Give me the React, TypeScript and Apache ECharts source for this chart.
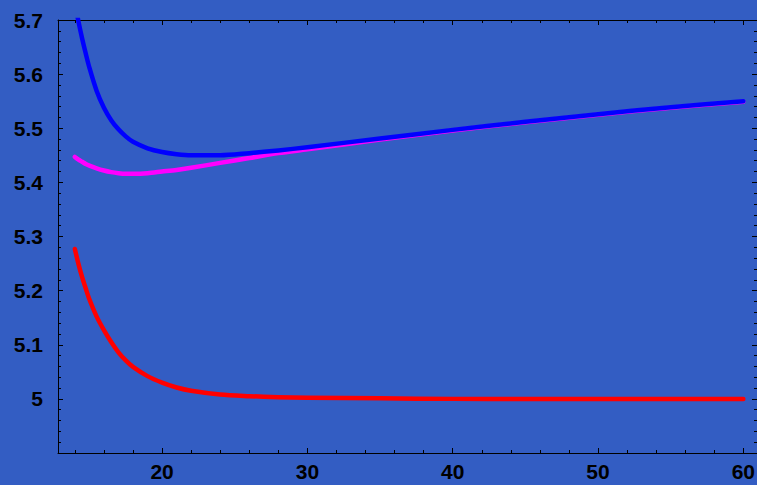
import React, { useEffect, useRef } from "react";
import * as echarts from "echarts";

const xValues = [14, 14.25, 14.5, 14.75, 15, 15.5, 16, 16.5, 17, 17.5, 18, 19, 20, 21, 22, 24, 26, 28, 30, 35, 40, 45, 50, 55, 60];
const blueValues = [5.731, 5.697, 5.666, 5.638, 5.612, 5.569, 5.538, 5.515, 5.498, 5.485, 5.475, 5.463, 5.456, 5.452, 5.450, 5.450, 5.454, 5.459, 5.465, 5.481, 5.497, 5.512, 5.526, 5.539, 5.550];
const magentaValues = [5.447, 5.442, 5.438, 5.434, 5.431, 5.426, 5.422, 5.419, 5.417, 5.416, 5.416, 5.417, 5.420, 5.423, 5.427, 5.436, 5.445, 5.454, 5.461, 5.479, 5.496, 5.511, 5.525, 5.538, 5.549];
const redValues = [5.277, 5.249, 5.225, 5.204, 5.184, 5.152, 5.127, 5.105, 5.086, 5.071, 5.059, 5.042, 5.030, 5.021, 5.015, 5.008, 5.005, 5.003, 5.002, 5.001, 5.0, 5.0, 5.0, 5.0, 5.0];

const xMajorTicks = [20, 30, 40, 50, 60];
const xMinorTicks = [14, 16, 18, 22, 24, 26, 28, 32, 34, 36, 38, 42, 44, 46, 48, 52, 54, 56, 58];
const yMajorTicks = [5, 5.1, 5.2, 5.3, 5.4, 5.5, 5.6, 5.7];
const yMinorTicks = [
  4.92, 4.94, 4.96, 4.98, 5.02, 5.04, 5.06, 5.08, 5.12, 5.14, 5.16, 5.18,
  5.22, 5.24, 5.26, 5.28, 5.32, 5.34, 5.36, 5.38, 5.42, 5.44, 5.46, 5.48,
  5.52, 5.54, 5.56, 5.58, 5.62, 5.64, 5.66, 5.68,
];

const X_MIN = 12.84;
const X_MAX = 60.94;
const Y_MIN = 4.9;
const Y_MAX = 5.7;

const labelFont = {
  color: "#000",
  fontFamily: "Liberation Sans, Arial, sans-serif",
  fontWeight: "bold" as const,
  fontSize: 21,
};

function makeX(position: "bottom" | "top", major: boolean, showLabel: boolean, showLine: boolean) {
  return {
    type: "value",
    position,
    min: X_MIN,
    max: X_MAX,
    axisLine: { show: showLine, lineStyle: { color: "#000", width: 1 } },
    axisTick: {
      show: true,
      inside: true,
      length: major ? 5 : 3,
      customValues: major ? xMajorTicks : xMinorTicks,
      lineStyle: { color: "#000", width: 1 },
    },
    axisLabel: showLabel
      ? { show: true, customValues: xMajorTicks, margin: 8, ...labelFont, formatter: (v: number) => String(v) }
      : { show: false },
    splitLine: { show: false },
  };
}

function makeY(position: "left" | "right", major: boolean, showLabel: boolean, showLine: boolean) {
  return {
    type: "value",
    position,
    min: Y_MIN,
    max: Y_MAX,
    axisLine: { show: showLine, lineStyle: { color: "#000", width: 1 } },
    axisTick: {
      show: true,
      inside: true,
      length: major ? 5 : 3,
      customValues: major ? yMajorTicks : yMinorTicks,
      lineStyle: { color: "#000", width: 1 },
    },
    axisLabel: showLabel
      ? {
          show: true,
          customValues: yMajorTicks,
          margin: 15,
          ...labelFont,
          formatter: (v: number) => (Math.abs(v - 5) < 1e-9 ? "5" : v.toFixed(1)),
        }
      : { show: false },
    splitLine: { show: false },
  };
}

function makeSeries(name: string, values: number[], color: string) {
  return {
    name,
    type: "line",
    xAxisIndex: 0,
    yAxisIndex: 0,
    data: xValues.map((x, i) => [x, values[i]]),
    showSymbol: false,
    symbol: "none",
    smooth: 0.3,
    clip: true,
    lineStyle: { color, width: 4.5, cap: "round", join: "round" },
    z: 3,
  };
}

export default function App() {
  const ref = useRef<HTMLDivElement>(null);
  useEffect(() => {
    document.body.style.margin = "0";
    if (!ref.current) return;
    const chart = echarts.init(ref.current, undefined, { renderer: "svg" });
    chart.setOption({
      animation: false,
      backgroundColor: "#335DC3",
      grid: {
        left: 58,
        top: 20,
        width: 699,
        height: 433,
        containLabel: false,
        outerBoundsMode: "none",
      },
      xAxis: [
        makeX("bottom", true, true, true),
        makeX("bottom", false, false, false),
        makeX("top", true, false, true),
        makeX("top", false, false, false),
      ],
      yAxis: [
        makeY("left", true, true, true),
        makeY("left", false, false, false),
        makeY("right", true, false, true),
        makeY("right", false, false, false),
      ],
      series: [
        makeSeries("magenta", magentaValues, "#FF00FF"),
        makeSeries("blue", blueValues, "#0000FF"),
        makeSeries("red", redValues, "#FF0000"),
      ],
    });
    return () => chart.dispose();
  }, []);
  return <div ref={ref} style={{ width: 757, height: 485 }} />;
}
